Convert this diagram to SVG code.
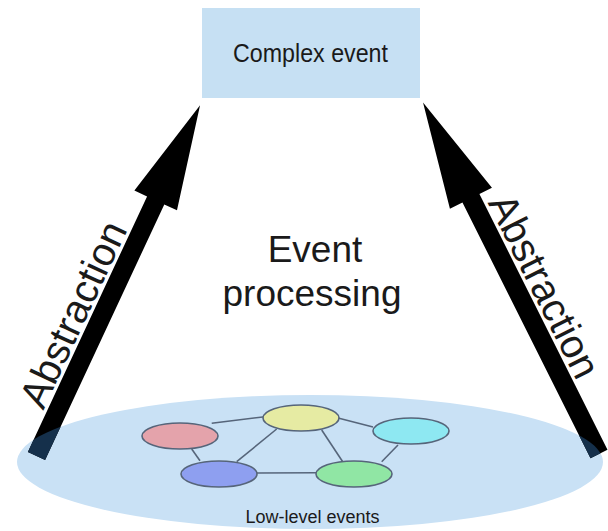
<svg xmlns="http://www.w3.org/2000/svg" xmlns:xlink="http://www.w3.org/1999/xlink" width="608" height="531" viewBox="0 0 608 531">
  <style>
    .lbl { font-family: "Liberation Sans", Arial, sans-serif; fill: #1a1a1a; }
    .ev { stroke: #56657a; stroke-width: 1.6; }
    .edge { stroke: #56657a; stroke-width: 1.6; fill: none; }
    .arrow { fill: #000000; }
    .tail { fill: #15304b; }
  </style>
  <defs>
    <polygon id="arrL" points="0,-9.5 282,-9.5 282,-23.5 387,0 282,23.5 282,9.5 0,9.5"/>
    <polygon id="arrR" points="0,-9.5 286,-9.5 286,-23.5 393,0 286,23.5 286,9.5 0,9.5"/>
    <clipPath id="baseClip">
      <ellipse cx="310" cy="462" rx="293" ry="67"/>
    </clipPath>
  </defs>
  <rect width="608" height="531" fill="#ffffff"/>

  <g id="low-level-events">
    <ellipse cx="310" cy="462" rx="293" ry="67" fill="#c9e1f5"/>
    <text class="lbl" x="312.5" y="522.5" font-size="18" text-anchor="middle">Low-level events</text>
  </g>

  <g id="connectors">
    <g id="edges">
      <line class="edge" x1="211.7" y1="423.3" x2="265" y2="416.7"/>
      <line class="edge" x1="338" y1="418" x2="373" y2="427"/>
      <line class="edge" x1="191.7" y1="449" x2="200" y2="460.7"/>
      <line class="edge" x1="276.7" y1="429" x2="236.7" y2="461.7"/>
      <line class="edge" x1="321.7" y1="430" x2="342.7" y2="461.7"/>
      <line class="edge" x1="398" y1="445" x2="381.7" y2="461.7"/>
      <line class="edge" x1="257" y1="473" x2="316.7" y2="472.7"/>
    </g>
    <g id="abstraction-left" transform="translate(36.5,456) rotate(-65)">
      <use xlink:href="#arrL" class="arrow"/>
    </g>
    <g id="abstraction-right" transform="translate(599,454) rotate(-116.6)">
      <use xlink:href="#arrR" class="arrow"/>
    </g>
    <g clip-path="url(#baseClip)">
      <g transform="translate(36.5,456) rotate(-65)"><use xlink:href="#arrL" class="tail"/></g>
      <g transform="translate(599,454) rotate(-116.6)"><use xlink:href="#arrR" class="tail"/></g>
    </g>
    <text class="lbl" transform="translate(36.5,456) rotate(-65)" x="44" y="-13" font-size="40">Abstraction</text>
    <text class="lbl" transform="translate(423,103) rotate(63.4)" x="118" y="-13" font-size="40">Abstraction</text>
  </g>

  <g id="ev-pink"><ellipse class="ev" cx="180" cy="436" rx="38" ry="13" fill="#e4a3ab"/></g>
  <g id="ev-yellow"><ellipse class="ev" cx="301" cy="418" rx="38" ry="13" fill="#e6eba3"/></g>
  <g id="ev-cyan"><ellipse class="ev" cx="411" cy="431" rx="38" ry="13" fill="#8ee8f2"/></g>
  <g id="ev-blue"><ellipse class="ev" cx="219" cy="474" rx="38" ry="13" fill="#8e9ff0"/></g>
  <g id="ev-green"><ellipse class="ev" cx="354" cy="474" rx="38" ry="13" fill="#90e6a4"/></g>

  <g id="complex-event">
    <rect x="202" y="8" width="218" height="90" fill="#c6e0f3"/>
    <text class="lbl" x="310.5" y="61.5" font-size="26" text-anchor="middle" textLength="155" lengthAdjust="spacingAndGlyphs">Complex event</text>
  </g>

  <g id="event-processing">
    <text class="lbl" x="315" y="262" font-size="37" text-anchor="middle">Event</text>
    <text class="lbl" x="312" y="306" font-size="37" text-anchor="middle">processing</text>
  </g>
</svg>
